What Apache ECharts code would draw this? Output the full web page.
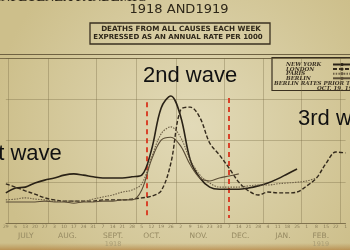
<!DOCTYPE html>
<html><head><meta charset="utf-8">
<script src="https://cdn.jsdelivr.net/npm/echarts@6/dist/echarts.min.js"></script>
<style>html,body{margin:0;padding:0;background:#d9cfa3}#c{width:350px;height:250px;}</style>
</head><body><div id="c"></div>
<script>
// Week-ending day numbers, 29 June 1918 .. 1 March 1919
const weekDays = ['29','6','13','20','27','3','10','17','24','31','7','14','21','28','5','12','19','26','2','9','16','23','30','7','14','21','28','4','11','18','25','1','8','15','22','1'];
const monthNames = ['JULY','AUG.','SEPT.','OCT.','NOV.','DEC.','JAN.','FEB.'];
const monthPos = [2.05,6.35,11.05,15.05,19.85,24.15,28.55,32.45];
const yearNotes = {'SEPT.':'1918','FEB.':'1919'};
const monthEdges = [0.25,4.35,9.35,13.45,17.55,22.55,26.55,30.45,34.45];
const waveLines = [14.5, 23];
const cityNames = ['NEW YORK','LONDON','PARIS','BERLIN'];
// Deaths from all causes each week, annual rate (chart units)
const newYork = [7.3,8.5,8.7,9.7,10.4,10.9,11.6,11.9,11.6,11.2,10.9,10.9,10.9,11.2,11.6,17.7,27.9,30.8,25.9,15.3,10.9,8.7,8.2,8.2,8.2,8.5,9.0,9.7,10.7,11.9,13.1];
const london = [9.5,8.7,7.8,7.0,6.1,5.6,5.3,5.3,5.3,5.3,5.6,5.6,5.6,5.8,6.1,6.5,7.8,14.5,27.4,28.1,25.5,19.4,16.5,13.3,9.9,7.8,6.8,7.5,7.3,7.3,7.5,9.0,10.9,14.5,17.2,17.0];
const paris = [5.6,5.8,6.1,5.8,5.6,5.3,5.3,5.3,5.3,5.8,6.3,6.8,7.5,8.0,9.5,15.8,21.6,23.3,20.8,15.3,11.6,9.7,8.7,8.7,8.7,9.0,9.2,9.2,9.5,9.7,9.9,10.2,10.9];
const berlin = [5.1,5.1,5.1,5.1,5.3,5.1,5.1,4.8,5.1,5.1,5.3,5.3,5.6,5.6,8.0,15.3,20.1,20.8,18.7,14.1,10.9,10.2,10.9,11.4,11.9];

const chart = echarts.init(document.getElementById('c'), null, {renderer:'canvas'});
const mkLine = (name, data, color, width, type) => ({
  name, type:'line', data, xAxisIndex:0, yAxisIndex:0, smooth:0.35, symbol:'none', showSymbol:false,
  lineStyle:{color, width, type}, itemStyle:{color}, z:5, silent:true
});
const ink = '#2e2719';
chart.setOption({
  animation:false,
  backgroundColor:{type:'radial', x:0.55, y:0.5, r:0.8, colorStops:[{offset:0,color:'#e2dab8'},{offset:1,color:'#cdbf8b'}]},
  grid:{left:1.5, right:-1.5, top:58, bottom:27, containLabel:false},
  legend:{data:cityNames, orient:'vertical', left:286, top:61.5, itemGap:-1.4, itemWidth:18, itemHeight:4,
    align:'right', padding:0, selectedMode:false,
    formatter:(n)=>'{a|'+n+'}',
    textStyle:{fontSize:5.5, color:'#3a3122', lineHeight:4.6,
      rich:{a:{width:42, align:'left', fontSize:5.5, fontStyle:'italic', fontWeight:'bold', fontFamily:'DejaVu Serif', color:'#3a3122', lineHeight:4.6, height:4.6}}}},
  xAxis:[
    {type:'category', data:weekDays, boundaryGap:false, gridIndex:0,
     axisLine:{lineStyle:{color:'rgba(90,75,45,0.55)', width:1}}, axisTick:{show:false},
     axisLabel:{interval:0, fontSize:4.5, margin:1.5, color:'#877b57', fontFamily:'DejaVu Sans'},
     splitLine:{show:false}},
    {type:'value', min:0, max:35, gridIndex:0, position:'bottom',
     axisLine:{show:false}, axisTick:{show:false}, splitLine:{show:false},
     axisLabel:{customValues:monthPos, margin:9, fontSize:7.5, color:'#968a62', fontFamily:'DejaVu Sans',
       formatter:(v)=>{const k = monthPos.findIndex(p=>Math.abs(p-v)<1e-6); if(k<0) return ''; const n = monthNames[k]; return yearNotes[n] ? n+'\n{y|'+yearNotes[n]+'}' : n;},
       rich:{y:{fontSize:6.5, color:'#a89c74', lineHeight:9, fontFamily:'DejaVu Sans'}}}}
  ],
  yAxis:{type:'value', min:0, max:40, interval:10, axisLabel:{show:false}, axisLine:{show:false}, axisTick:{show:false},
    splitLine:{lineStyle:{color:'rgba(110,95,60,0.32)', width:1}}},
  series:[
    {name:'grid', type:'line', xAxisIndex:1, yAxisIndex:0, data:[], silent:true,
     markLine:{silent:true, symbol:['none','none'], label:{show:false}, animation:false,
       lineStyle:{color:'rgba(110,95,60,0.32)', width:1, type:'solid'},
       data:monthEdges.map(v=>({xAxis:v}))}},
    {name:'waves', type:'line', xAxisIndex:1, yAxisIndex:0, data:[], silent:true, z:6,
     markLine:{silent:true, symbol:['none','none'], label:{show:false}, animation:false,
       lineStyle:{color:'#d8432a', width:2, type:[5,4]},
       data:[[{coord:[waveLines[0],29.3]},{coord:[waveLines[0],1.2]}],[{coord:[waveLines[1],30.3]},{coord:[waveLines[1],1.2]}]]}},
    mkLine('NEW YORK', newYork, '#2a2216', 1.6, 'solid'),
    mkLine('LONDON', london, '#33291b', 1.4, [4,2]),
    mkLine('PARIS', paris, '#6e6046', 1.1, [1.5,1.2]),
    mkLine('BERLIN', berlin, '#5b4d36', 1.1, 'solid')
  ],
  graphic:[
    {type:'rect', silent:true, z:0, shape:{x:0,y:243,width:350,height:7},
     style:{fill:{type:'linear',x:0,y:0,x2:0,y2:1,colorStops:[{offset:0,color:'rgba(170,120,50,0)'},{offset:1,color:'rgba(170,110,40,0.55)'}]}}},
    {type:'text', silent:true, style:{x:-4, y:-2, text:'INFLUENZA PANDEMIC', font:'bold 13px "Liberation Serif"', fill:ink, verticalAlign:'middle'}},
    {type:'text', silent:true, style:{x:179, y:9.5, text:'1918 AND1919', font:'13px "DejaVu Sans"', fill:ink, align:'center', verticalAlign:'middle'}},
    {type:'rect', silent:true, shape:{x:90,y:23,width:180,height:21}, style:{fill:'none', stroke:'#3a3020', lineWidth:1.3}},
    {type:'text', silent:true, style:{x:181, y:29.5, text:'DEATHS FROM ALL CAUSES EACH WEEK', font:'bold 7.2px "DejaVu Sans"', fill:ink, align:'center', verticalAlign:'middle'}},
    {type:'text', silent:true, style:{x:178, y:37.5, text:'EXPRESSED AS AN ANNUAL RATE PER 1000', font:'bold 7px "DejaVu Sans"', fill:ink, align:'center', verticalAlign:'middle'}},
    {type:'line', silent:true, shape:{x1:0,y1:54.5,x2:350,y2:54.5}, style:{stroke:'#6f6242', lineWidth:1}},
    {type:'line', silent:true, shape:{x1:0,y1:58.5,x2:350,y2:58.5}, style:{stroke:'#7d6f4c', lineWidth:1}},
    {type:'rect', silent:true, shape:{x:272,y:57.5,width:90,height:33}, style:{fill:'none', stroke:'#3a3020', lineWidth:1.2}},
    {type:'text', silent:true, style:{x:274, y:83.5, text:'BERLIN RATES PRIOR TO', font:'italic bold 5.5px "DejaVu Serif"', fill:'#3a3122', verticalAlign:'middle'}},
    {type:'text', silent:true, style:{x:317, y:88.5, text:'OCT. 19, 1918', font:'italic bold 5.5px "DejaVu Serif"', fill:'#3a3122', verticalAlign:'middle'}},
    {type:'text', silent:true, z:10, style:{x:143, y:76.3, text:'2nd wave', font:'22px "Liberation Sans"', fill:'#111', verticalAlign:'middle'}},
    {type:'text', silent:true, z:10, style:{x:-25, y:154.3, text:'1st wave', font:'22px "Liberation Sans"', fill:'#111', verticalAlign:'middle'}},
    {type:'text', silent:true, z:10, style:{x:298, y:119.3, text:'3rd wave', font:'22px "Liberation Sans"', fill:'#111', verticalAlign:'middle'}}
  ]
});
</script></body></html>
